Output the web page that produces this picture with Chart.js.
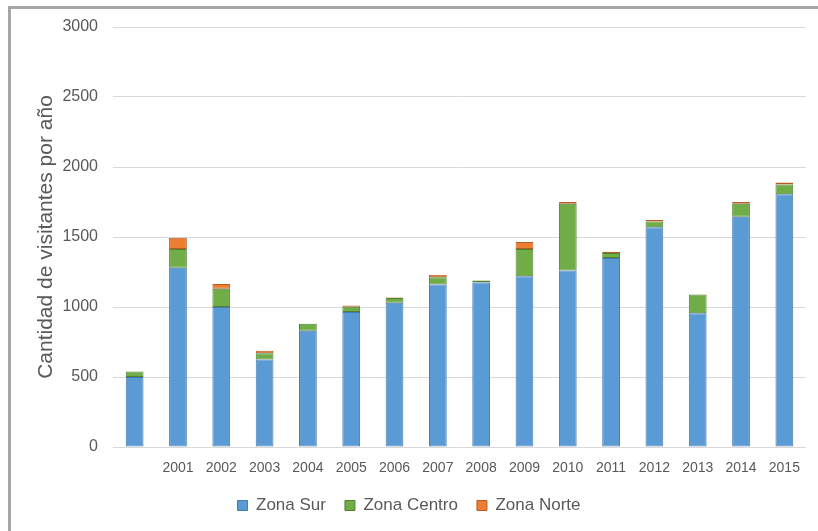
<!DOCTYPE html>
<html>
<head>
<meta charset="utf-8">
<script src="https://cdn.jsdelivr.net/npm/chart.js@4/dist/chart.umd.min.js"></script>
<style>
  html, body { margin: 0; padding: 0; background: #ffffff; }
  #wrap { position: relative; width: 818px; height: 531px; }
</style>
</head>
<body>
<div id="wrap"><canvas id="visitChart" width="818" height="531"></canvas></div>
<script>
// years (first bar has no label in the original)
const years = ['', '2001', '2002', '2003', '2004', '2005', '2006', '2007',
  '2008', '2009', '2010', '2011', '2012', '2013', '2014', '2015'];

const zonaSur = [500, 1280, 1000, 625, 830, 965, 1030, 1160, 1175, 1220, 1260, 1350, 1570, 955, 1645, 1805];
const zonaCentro = [40, 135, 130, 45, 50, 37, 35, 52, 15, 195, 478, 35, 40, 135, 92, 70];
// null = no segment drawn for that year
const zonaNorte = [null, 80, 35, 17, null, 8, 3, 18, null, 50, 12, 10, 12, null, 13, 15];

const yTicks = [0, 500, 1000, 1500, 2000, 2500, 3000];

const textColor = '#595959';
const fontFamily = '"Liberation Sans", Arial, sans-serif';

// grey frame round the picture (left and top edges only are visible)
const framePlugin = {
  id: 'frame',
  beforeDraw(chart) {
    const ctx = chart.ctx;
    ctx.save();
    ctx.fillStyle = '#a6a6a6';
    ctx.fillRect(8, 6, 3, chart.height - 6);
    ctx.fillRect(8, 6, chart.width - 8, 3);
    ctx.restore();
  }
};

const ctx = document.getElementById('visitChart').getContext('2d');

new Chart(ctx, {
  type: 'bar',
  data: {
    labels: years,
    datasets: [
      {
        label: 'Zona Sur',
        data: zonaSur,
        backgroundColor: '#5b9bd5',
        borderColor: '#457bb0',
        borderWidth: 1,
        borderSkipped: false
      },
      {
        label: 'Zona Centro',
        data: zonaCentro,
        backgroundColor: '#70ad47',
        borderColor: '#4f8230',
        borderWidth: 1,
        borderSkipped: false
      },
      {
        label: 'Zona Norte',
        data: zonaNorte,
        backgroundColor: '#ed7d31',
        borderColor: '#b55c24',
        borderWidth: 1,
        borderSkipped: false
      }
    ]
  },
  options: {
    responsive: false,
    animation: false,
    layout: {
      padding: { left: 12, right: 12, top: 27, bottom: 7 }
    },
    datasets: {
      bar: { categoryPercentage: 1, barPercentage: 0.41 }
    },
    plugins: {
      legend: {
        position: 'bottom',
        labels: {
          boxWidth: 10,
          boxHeight: 10,
          padding: 19,
          color: textColor,
          font: { family: fontFamily, size: 17 }
        }
      },
      tooltip: { enabled: false }
    },
    scales: {
      x: {
        stacked: true,
        grid: { display: false, drawTicks: false },
        border: { display: false },
        ticks: {
          color: textColor,
          padding: 13,
          maxRotation: 0,
          autoSkip: false,
          font: { family: fontFamily, size: 14 }
        },
        afterFit(scale) { scale.height = 31; }
      },
      y: {
        stacked: true,
        min: 0,
        max: 3000,
        afterBuildTicks(scale) {
          scale.ticks = yTicks.map(v => ({ value: v }));
        },
        grid: { color: '#d9d9d9', lineWidth: 1, drawTicks: false },
        border: { display: false },
        ticks: {
          color: textColor,
          padding: 15,
          font: { family: fontFamily, size: 16 },
          callback: (value) => String(value)
        },
        title: {
          display: true,
          text: 'Cantidad de visitantes por año',
          color: textColor,
          font: { family: fontFamily, size: 21 },
          padding: { top: 22, bottom: 0 }
        },
        afterFit(scale) { scale.width = 101; }
      }
    }
  },
  plugins: [framePlugin]
});
</script>
</body>
</html>
